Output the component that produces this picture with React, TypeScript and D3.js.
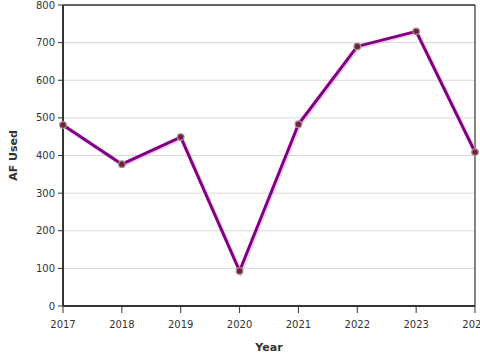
import React from "react";
import * as d3 from "d3";

const years: number[] = [2017, 2018, 2019, 2020, 2021, 2022, 2023, 2024];
const afUsed: number[] = [481, 377, 449, 93, 483, 690, 730, 409];
const yTicks: number[] = [0, 100, 200, 300, 400, 500, 600, 700, 800];

const W = 480;
const H = 360;
const M = { left: 63, right: 5, top: 5, bottom: 54 };

export default function App() {
  const x = d3.scaleLinear().domain([2017, 2024]).range([M.left, W - M.right]);
  const y = d3.scaleLinear().domain([0, 800]).range([H - M.bottom, M.top]);
  const line = d3
    .line<number>()
    .x((_, i) => x(years[i]))
    .y((d) => y(d));
  const path = line(afUsed) || "";
  const font = "'DejaVu Sans', sans-serif";
  const x0 = M.left;
  const x1 = W - M.right;
  const y0 = H - M.bottom;
  const y1 = M.top;
  return (
    <svg
      width={W}
      height={H}
      style={{ position: "fixed", left: 0, top: 0, background: "#fff", overflow: "hidden" }}
      fontFamily={font}
    >
      <rect x={0} y={0} width={W} height={H} fill="#fff" />
      {yTicks.map((t) => (
        <line key={"g" + t} x1={x0} x2={x1} y1={y(t)} y2={y(t)} stroke="#d9d9d9" strokeWidth={1} />
      ))}
      <line x1={x0} x2={x1} y1={y1} y2={y1} stroke="#333" strokeWidth={1.5} />
      <line x1={x1} x2={x1} y1={y1} y2={y0} stroke="#333" strokeWidth={1.2} />
      {yTicks.map((t) => (
        <g key={"y" + t}>
          <line x1={x0 - 5} x2={x0} y1={y(t)} y2={y(t)} stroke="#333" strokeWidth={1} />
          <text x={x0 - 8} y={y(t)} dy="0.35em" textAnchor="end" fontSize={10} fill="#333">
            {t}
          </text>
        </g>
      ))}
      {years.map((yr) => (
        <g key={"x" + yr}>
          <line x1={x(yr)} x2={x(yr)} y1={y0} y2={y0 + 7} stroke="#333" strokeWidth={1} />
          <text x={x(yr)} y={y0 + 22} textAnchor="middle" fontSize={10} fill="#333">
            {yr}
          </text>
        </g>
      ))}
      <line x1={x0} x2={x0} y1={y1} y2={y0} stroke="#333" strokeWidth={2} />
      <line x1={x0} x2={x1} y1={y0} y2={y0} stroke="#333" strokeWidth={2} />
      <path d={path} fill="none" stroke="#e6a8e6" strokeWidth={4} transform="translate(1,1)" opacity={0.6} />
      <path d={path} fill="none" stroke="#800080" strokeWidth={3} strokeLinejoin="round" />
      {afUsed.map((v, i) => (
        <circle key={"c" + i} cx={x(years[i])} cy={y(v)} r={3.3} fill="#7a1a4a" stroke="#9a9a80" strokeWidth={1.2} />
      ))}
      <text x={(x0 + x1) / 2} y={351} textAnchor="middle" fontSize={11} fontWeight="bold" fill="#333">
        Year
      </text>
      <text
        transform={`translate(17,${(y0 + y1) / 2}) rotate(-90)`}
        textAnchor="middle"
        fontSize={11}
        fontWeight="bold"
        fill="#333"
      >
        AF Used
      </text>
    </svg>
  );
}
